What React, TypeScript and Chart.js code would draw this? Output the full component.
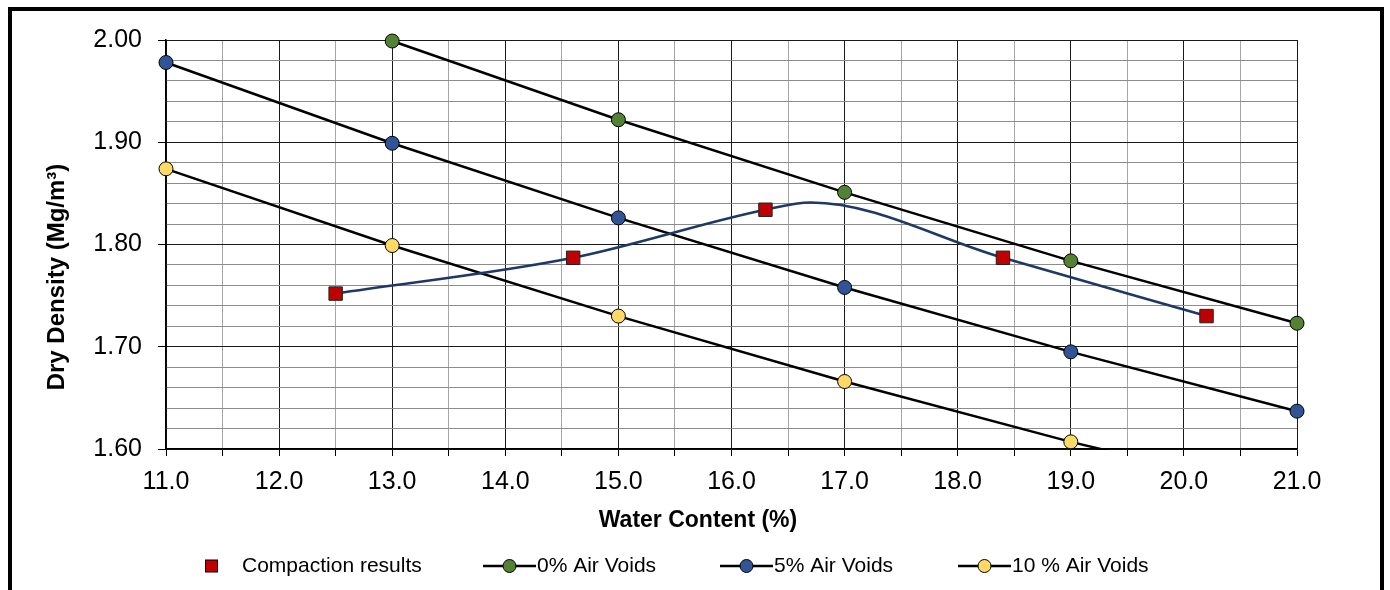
import React, { useEffect, useRef } from 'react';
import { Chart, registerables } from 'chart.js';

Chart.register(...registerables);

// ---- data ----
const compactionWater = [12.5, 14.6, 16.3, 18.4, 20.2];
const compactionDensity = [1.752, 1.787, 1.834, 1.787, 1.73];

const curveWater = [12.5, 14.6, 16.3, 16.7, 18.4, 20.2];
const curveDensity = [1.752, 1.787, 1.834, 1.841, 1.787, 1.73];

const voids0Water = [13, 15, 17, 19, 21];
const voids0Density = [1.999, 1.922, 1.851, 1.784, 1.723];

const voids5Water = [11, 13, 15, 17, 19, 21];
const voids5Density = [1.978, 1.899, 1.826, 1.758, 1.695, 1.637];

const voids10Water = [11, 13, 15, 17, 19, 21];
const voids10Density = [1.874, 1.799, 1.73, 1.666, 1.607, 1.554];

const xMajorTicks = [11, 12, 13, 14, 15, 16, 17, 18, 19, 20, 21];
const yMajorTicks = [1.6, 1.7, 1.8, 1.9, 2.0];

const seriesLabels = ['Compaction results', '0% Air Voids', '5% Air Voids', '10 % Air Voids'];
const xTitle = 'Water Content (%)';
const yTitle = 'Dry Density (Mg/m³)';

const FONT = '"Liberation Sans", Arial, Helvetica, sans-serif';
const RED = '#C00000';
const GREEN = '#548235';
const BLUE = '#2F5597';
const YELLOW = '#FFD966';
const NAVY = '#1F3864';

const pts = (xs: number[], ys: number[]) => xs.map((x, i) => ({ x, y: ys[i] }));
const isIn = (arr: number[], v: number) => arr.some((a) => Math.abs(a - v) < 1e-6);

const overlayPlugin = {
  id: 'overlay',
  afterDraw(chart: any) {
    const ctx: CanvasRenderingContext2D = chart.ctx;
    ctx.save();
    ctx.fillStyle = '#000';
    ctx.textBaseline = 'middle';

    // axis titles
    ctx.font = `bold 23px ${FONT}`;
    ctx.textAlign = 'center';
    ctx.fillText(xTitle, 698, 521);

    ctx.save();
    ctx.translate(57, 277);
    ctx.rotate(-Math.PI / 2);
    ctx.font = `bold 24px ${FONT}`;
    ctx.fillText(yTitle, 0, 0);
    ctx.restore();

    // legend
    const ly = 566;
    ctx.font = `21px ${FONT}`;
    ctx.textAlign = 'left';
    ctx.fillStyle = RED;
    ctx.strokeStyle = '#000';
    ctx.lineWidth = 1;
    ctx.fillRect(205.5, ly - 6, 12, 12);
    ctx.strokeRect(205.5, ly - 6, 12, 12);
    ctx.fillStyle = '#000';
    ctx.fillText(seriesLabels[0], 242, ly);

    const lineItems = [
      { x0: 483, color: GREEN, label: seriesLabels[1] },
      { x0: 720, color: BLUE, label: seriesLabels[2] },
      { x0: 958, color: YELLOW, label: seriesLabels[3] },
    ];
    lineItems.forEach((it) => {
      ctx.strokeStyle = '#000';
      ctx.lineWidth = 2.5;
      ctx.beginPath();
      ctx.moveTo(it.x0, ly);
      ctx.lineTo(it.x0 + 53, ly);
      ctx.stroke();
      ctx.beginPath();
      ctx.arc(it.x0 + 26.5, ly, 6.5, 0, Math.PI * 2);
      ctx.fillStyle = it.color;
      ctx.fill();
      ctx.lineWidth = 1;
      ctx.stroke();
      ctx.fillStyle = '#000';
      ctx.fillText(it.label, it.x0 + 54, ly);
    });
    ctx.restore();
  },
};

export default function App() {
  const ref = useRef<HTMLCanvasElement>(null);

  useEffect(() => {
    document.documentElement.style.overflow = 'hidden';
    document.body.style.overflow = 'hidden';
    const canvas = ref.current;
    if (!canvas) return;

    const lineDs = (label: string, xs: number[], ys: number[], color: string, clip: any) => ({
      label,
      data: pts(xs, ys),
      showLine: true,
      borderColor: '#000',
      borderWidth: 2.5,
      tension: 0,
      pointRadius: 7,
      pointBackgroundColor: color,
      pointBorderColor: '#000',
      pointBorderWidth: 1,
      clip,
    });

    const chart = new Chart(canvas, {
      type: 'scatter',
      data: {
        datasets: [
          {
            label: seriesLabels[0],
            data: pts(compactionWater, compactionDensity),
            showLine: false,
            pointStyle: 'rect',
            pointRadius: 9.5,
            pointBackgroundColor: RED,
            pointBorderColor: '#222',
            pointBorderWidth: 1,
            clip: false,
          },
          {
            label: 'curve',
            data: pts(curveWater, curveDensity),
            showLine: true,
            borderColor: NAVY,
            borderWidth: 2.5,
            pointRadius: 0,
            cubicInterpolationMode: 'monotone',
            clip: false,
          },
          lineDs(seriesLabels[1], voids0Water, voids0Density, GREEN, false),
          lineDs(seriesLabels[2], voids5Water, voids5Density, BLUE, false),
          lineDs(seriesLabels[3], voids10Water, voids10Density, YELLOW, { left: 12, top: 12, right: 12, bottom: 1 }),
        ] as any,
      },
      options: {
        animation: false,
        responsive: false,
        maintainAspectRatio: false,
        devicePixelRatio: 1,
        events: [],
        layout: { padding: { left: 0, top: 40, right: 93, bottom: 0 } },
        plugins: {
          legend: { display: false },
          tooltip: { enabled: false },
          title: { display: false },
        },
        scales: {
          x: {
            type: 'linear',
            min: 11,
            max: 21,
            afterFit: (scale: any) => {
              scale.height = 141;
            },
            ticks: {
              stepSize: 0.5,
              autoSkip: false,
              maxRotation: 0,
              padding: 11,
              color: '#000',
              font: { family: FONT, size: 25 },
              callback: (v: any) => (isIn(xMajorTicks, Number(v)) ? Number(v).toFixed(1) : ''),
            },
            grid: {
              drawTicks: true,
              tickLength: 7,
              tickColor: '#000',
              color: (c: any) => (c.tick && isIn(xMajorTicks, c.tick.value) ? '#1a1a1a' : '#a6a6a6'),
              lineWidth: 1,
            },
            border: { display: true, color: '#000', width: 1.5 },
          },
          y: {
            type: 'linear',
            min: 1.6,
            max: 2.0,
            afterFit: (scale: any) => {
              scale.width = 166;
            },
            ticks: {
              stepSize: 0.02,
              autoSkip: false,
              padding: 16,
              color: '#000',
              font: { family: FONT, size: 25 },
              callback: (v: any) => (isIn(yMajorTicks, Number(v)) ? Number(v).toFixed(2) : ''),
            },
            grid: {
              drawTicks: true,
              tickLength: 8,
              tickColor: (c: any) => (c.tick && isIn(yMajorTicks, c.tick.value) ? '#000' : 'rgba(0,0,0,0)'),
              color: (c: any) => (c.tick && isIn(yMajorTicks, c.tick.value) ? '#1a1a1a' : '#8c8c8c'),
              lineWidth: 1,
            },
            border: { display: true, color: '#000', width: 1.5 },
          },
        },
      } as any,
      plugins: [overlayPlugin],
    });

    return () => chart.destroy();
  }, []);

  return (
    <div
      style={{
        position: 'absolute',
        left: 0,
        top: 0,
        width: 1390,
        height: 590,
        overflow: 'hidden',
        background: '#fff',
      }}
    >
      <div
        style={{
          position: 'absolute',
          left: 8,
          top: 7,
          width: 1376,
          height: 650,
          border: '4px solid #000',
          boxSizing: 'border-box',
        }}
      />
      <canvas
        ref={ref}
        width={1390}
        height={590}
        style={{ position: 'absolute', left: 0, top: 0, width: 1390, height: 590 }}
      />
    </div>
  );
}
